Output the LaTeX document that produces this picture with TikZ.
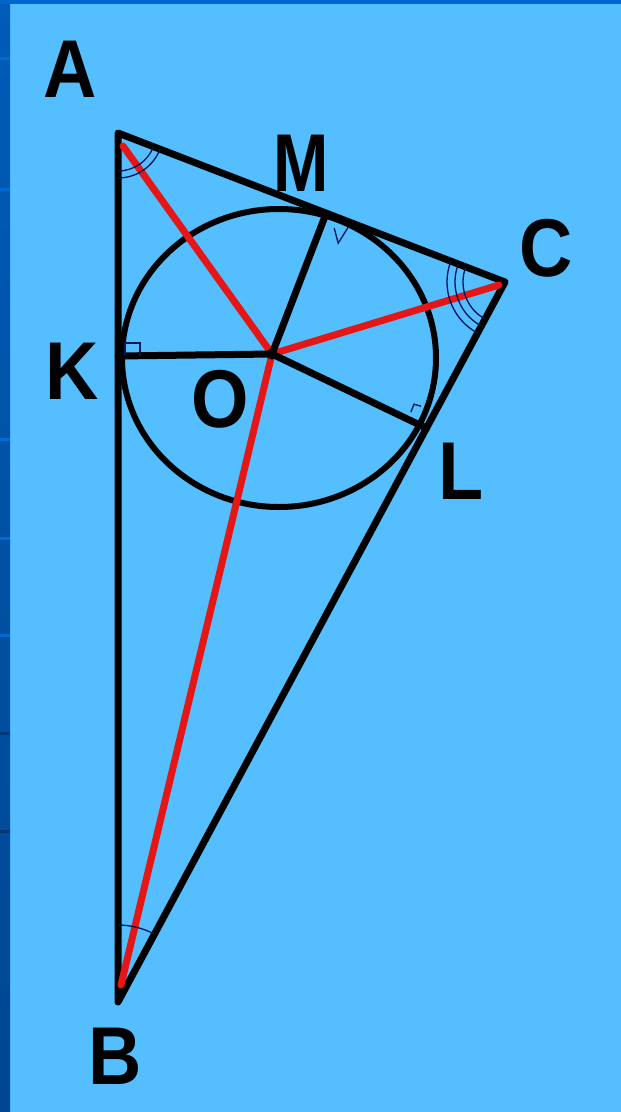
\documentclass[tikz,border=0pt]{standalone}
\usepackage{fontspec}
\setmainfont{Liberation Sans}
\usetikzlibrary{calc}
\definecolor{bg}{RGB}{84,190,255}
\definecolor{stripA}{RGB}{0,92,184}
\definecolor{stripB}{RGB}{0,70,145}
\definecolor{stripLight}{RGB}{0,105,210}
\definecolor{stripDark}{RGB}{0,55,115}
\definecolor{topstrip}{RGB}{0,102,204}
\definecolor{redline}{RGB}{228,22,22}
\definecolor{navy}{RGB}{0,20,90}
\begin{document}
\begin{tikzpicture}[x=1pt,y=-1pt,
  geo/.style={draw=black,line width=7pt,line join=round,line cap=round},
  ring/.style={draw=black,line width=6pt},
  bis/.style={draw=redline,line width=7pt,line cap=round},
  amark/.style={draw=navy,line width=1.3pt},
  lbl/.style={font=\fontsize{82}{82}\selectfont\bfseries,inner sep=0pt,xscale=0.9}]
\useasboundingbox (0,0) rectangle (621,1112);
\fill[bg] (0,0) rectangle (621,1112);
\shade[top color=stripA,bottom color=stripB] (0,0) rectangle (10,1112);
\foreach \yy in {57,188,438,537,634} \fill[stripLight] (0,\yy) rectangle (10,\yy+3);
\foreach \yy in {732,830} \fill[stripDark] (0,\yy) rectangle (10,\yy+3);
\fill[topstrip] (0,0) rectangle (621,4);

% points
\coordinate (A) at (118,133);
\coordinate (B) at (118,1002);
\coordinate (C) at (505,282);
\coordinate (O) at (272,354);
\coordinate (I) at (279,358);
\coordinate (K) at (118,356);
\coordinate (M) at ($(A)!(O)!(C)$);
\coordinate (L) at ($(B)!0.797!(C)$);
\coordinate (rA) at (123,146);
\coordinate (rB) at (121,985);
\coordinate (rC) at (499,285);

% circle and triangle
\draw[ring] (I) ellipse [x radius=157, y radius=149];
\draw[geo] (A) -- (B) -- (C) -- cycle;

% bisectors
\draw[bis] (rA) -- (O);
\draw[bis] (rB) -- (O);
\draw[bis] (rC) -- (O);

% radii
\draw[geo] (O) -- (K);
\draw[geo] (O) -- (M);
\draw[geo] (O) -- (L);
\fill[black] (O) circle (5.5);

% angle marks
\draw[amark] ($(A)+(90:38)$) arc[start angle=90,end angle=21,radius=38];
\draw[amark] ($(A)+(90:45)$) arc[start angle=90,end angle=21,radius=45];
\draw[amark] ($(C)+(118:42)$) arc[start angle=118,end angle=201,radius=42];
\draw[amark] ($(C)+(118:50)$) arc[start angle=118,end angle=201,radius=50];
\draw[amark] ($(C)+(118:58)$) arc[start angle=118,end angle=201,radius=58];
\draw[amark] ($(B)+(-90:77)$) arc[start angle=-90,end angle=-62,radius=77];

% right angle marks
\draw[amark] ($(K)+(7,0)$) -- ($(K)+(7,-13)$) -- ($(K)+(22,-13)$) -- ($(K)+(22,0)$);
\draw[amark] ($(M)+(8,15)$) -- ($(M)+(12,30)$) -- ($(M)+(22,14)$);
\draw[amark] ($(L)+(-15.5,-16)$) -- ($(L)+(-12.5,-24)$) -- ($(L)+(-5.5,-22)$);

% labels
\node[lbl] (lA) at (70,69) {A};
\node[lbl,xscale=0.9] (lM) at (301,163) {M};
\node[lbl] (lC) at (546,248) {C};
\node[lbl] (lK) at (72,371) {K};
\node[lbl] (lO) at (220,399) {O};
\node[lbl] (lL) at (461,471) {L};
\node[lbl] (lB) at (115,1056) {B};
\end{tikzpicture}
\end{document}
